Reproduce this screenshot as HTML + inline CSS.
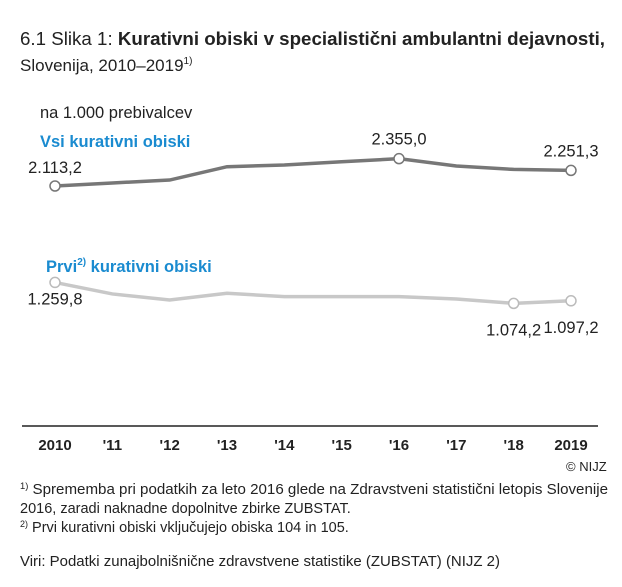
<!DOCTYPE html>
<html><head><meta charset="utf-8"><style>
body{margin:0;background:#fff;font-family:"Liberation Sans",sans-serif;}
svg text{font-family:"Liberation Sans",sans-serif;}
</style></head><body>
<svg id="c" width="622" height="582">
<text x="20" y="45" font-size="18.5" fill="#222" textLength="585" lengthAdjust="spacingAndGlyphs">6.1 Slika 1: <tspan font-weight="bold">Kurativni obiski v specialistični ambulantni dejavnosti,</tspan></text>
<text x="20" y="71" font-size="17" fill="#222">Slovenija, 2010–2019<tspan font-size="10" dy="-7">1)</tspan></text>
<text x="40" y="118" font-size="16.5" fill="#222">na 1.000 prebivalcev</text>
<text x="40" y="147" font-size="16.5" font-weight="bold" fill="#1a8bd0">Vsi kurativni obiski</text>
<text x="46" y="272" font-size="16.5" font-weight="bold" fill="#1a8bd0">Prvi<tspan font-size="10" dy="-7">2)</tspan><tspan dy="7"> kurativni obiski</tspan></text>
<line x1="22" y1="426" x2="598" y2="426" stroke="#222" stroke-width="1.5"/>
<g id="ticks"></g>
<g id="series"></g>
<text x="566" y="471" font-size="13" fill="#222">© NIJZ</text>
<text x="20" y="494" font-size="14.5" fill="#222" textLength="588" lengthAdjust="spacingAndGlyphs"><tspan font-size="9" dy="-5">1)</tspan><tspan dy="5"> Sprememba pri podatkih za leto 2016 glede na Zdravstveni statistični letopis Slovenije</tspan></text>
<text x="20" y="513" font-size="14.5" fill="#222">2016, zaradi naknadne dopolnitve zbirke ZUBSTAT.</text>
<text x="20" y="532" font-size="14.5" fill="#222"><tspan font-size="9" dy="-5">2)</tspan><tspan dy="5"> Prvi kurativni obiski vključujejo obiska 104 in 105.</tspan></text>
<text x="20" y="566" font-size="14.5" fill="#222" textLength="480" lengthAdjust="spacingAndGlyphs">Viri: Podatki zunajbolnišnične zdravstvene statistike (ZUBSTAT) (NIJZ 2)</text>
</svg>
<script>
const years = ["2010","'11","'12","'13","'14","'15","'16","'17","'18","2019"];
const allVisits = [2113.2,2140,2166,2284,2299,2328,2355.0,2290,2260,2251.3];
const firstVisits = [1259.8,1158,1104,1164,1134,1134,1134,1113,1074.2,1097.2];
const allLabels = {0:"2.113,2",6:"2.355,0",9:"2.251,3"};
const firstLabels = {0:"1.259,8",8:"1.074,2",9:"1.097,2"};
const NS="http://www.w3.org/2000/svg";
const x=i=>55+i*(571-55)/(years.length-1);
const y=v=>186+(2113.2-v)*0.113;
const tg=document.getElementById('ticks'), sg=document.getElementById('series');
years.forEach((t,i)=>{
 const tx=document.createElementNS(NS,'text');
 tx.setAttribute('x',x(i));tx.setAttribute('y',450);tx.setAttribute('text-anchor','middle');
 tx.setAttribute('font-size','15');tx.setAttribute('font-weight','bold');tx.setAttribute('fill','#222');
 tx.textContent=t;
 
 
 tg.appendChild(tx);
});
function draw(vals,color,labels,name,below){
 const p=document.createElementNS(NS,'polyline');
 p.setAttribute('points',vals.map((v,i)=>x(i)+','+y(v)).join(' '));
 p.setAttribute('fill','none');p.setAttribute('stroke',color);p.setAttribute('stroke-width','3.5');
 
 
 sg.appendChild(p);
 Object.keys(labels).forEach(k=>{
  const i=+k;
  const c=document.createElementNS(NS,'circle');
  c.setAttribute('cx',x(i));c.setAttribute('cy',y(vals[i]));c.setAttribute('r',5);
  c.setAttribute('fill','#fff');c.setAttribute('stroke',color==='#777'?'#777':'#bbb');c.setAttribute('stroke-width','1.5');
  
  
  sg.appendChild(c);
  const t=document.createElementNS(NS,'text');
  let ty=below?y(vals[i])+32:y(vals[i])-14;
  if(i===0){ty=below?y(vals[i])+22:y(vals[i])-13;}
  t.setAttribute('x',x(i));t.setAttribute('y',ty);t.setAttribute('text-anchor','middle');
  t.setAttribute('font-size','16.5');t.setAttribute('fill','#222');
  t.textContent=labels[k];
  
  
  sg.appendChild(t);
 });
}
draw(allVisits,'#777',allLabels,'all-visits',false);
draw(firstVisits,'#c8c8c8',firstLabels,'first-visits',true);
</script>
</body></html>
